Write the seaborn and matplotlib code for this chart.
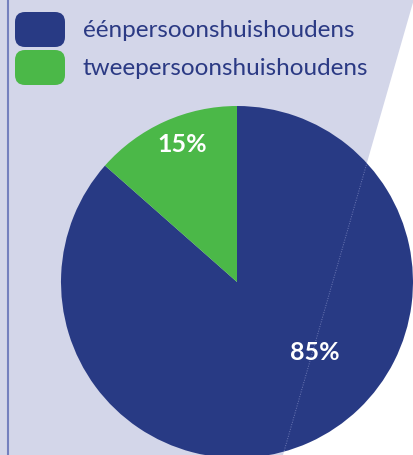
import matplotlib
matplotlib.use("Agg")
import matplotlib.pyplot as plt
from matplotlib.patches import Polygon, FancyBboxPatch
import seaborn as sns

# data (wedge sizes as drawn, labels as printed)
categories = ["éénpersoonshuishoudens", "tweepersoonshuishoudens"]
shares = [86.5, 13.5]
pct_labels = ["85%", "15%"]

colors = ["#283A84", "#4BB848"]
bg_color = "#D3D6E9"

sns.set_theme(style="white")
plt.rcParams["font.family"] = ["Lato", "DejaVu Sans"]

fig = plt.figure(figsize=(4.14, 4.56), dpi=100)
ax = fig.add_axes([0, 0, 1, 1])

# lavender background panel with slanted right edge
ax.add_patch(Polygon([(0, 0), (0, 456), (414, 456), (283, 0)],
                     closed=True, facecolor=bg_color, edgecolor="none", zorder=0))
ax.plot([8, 8], [0, 456], color="#7480BE", lw=1.5, zorder=1)

# pie
cx, cy, r = 237, 173, 176
wedges, _ = ax.pie(shares, colors=colors, startangle=90, counterclock=False,
                   center=(cx, cy), radius=r, frame=True,
                   wedgeprops=dict(linewidth=0))
ax.set_xlim(0, 414)
ax.set_ylim(0, 456)
ax.set_aspect("equal")
ax.axis("off")

# faint dotted continuation of the panel edge over the pie
edge, = ax.plot([414, 283], [456, 0], ls=(0, (1, 1.5)), color="#6C78B4", lw=0.7, zorder=3)
edge.set_clip_path(wedges[0])

# percentage labels
ax.text(cx + 78, cy - 70, pct_labels[0], color="white", fontsize=18,
        fontweight="bold", ha="center", va="center", zorder=4)
ax.text(cx - 55, cy + 138, pct_labels[1], color="white", fontsize=18,
        fontweight="bold", ha="center", va="center", zorder=4)

# legend
for i, (lab, col) in enumerate(zip(categories, colors)):
    yc = 456 - (30.5 + 38 * i)
    ax.add_patch(FancyBboxPatch((15, yc - 17.5), 50, 35,
                                boxstyle="round,pad=0,rounding_size=10",
                                facecolor=col, edgecolor="none", zorder=2))
    ax.text(83, yc, lab, color="#2B3A84", fontsize=17.5, ha="left", va="center", zorder=2)

fig.savefig("out.png", dpi=100)
